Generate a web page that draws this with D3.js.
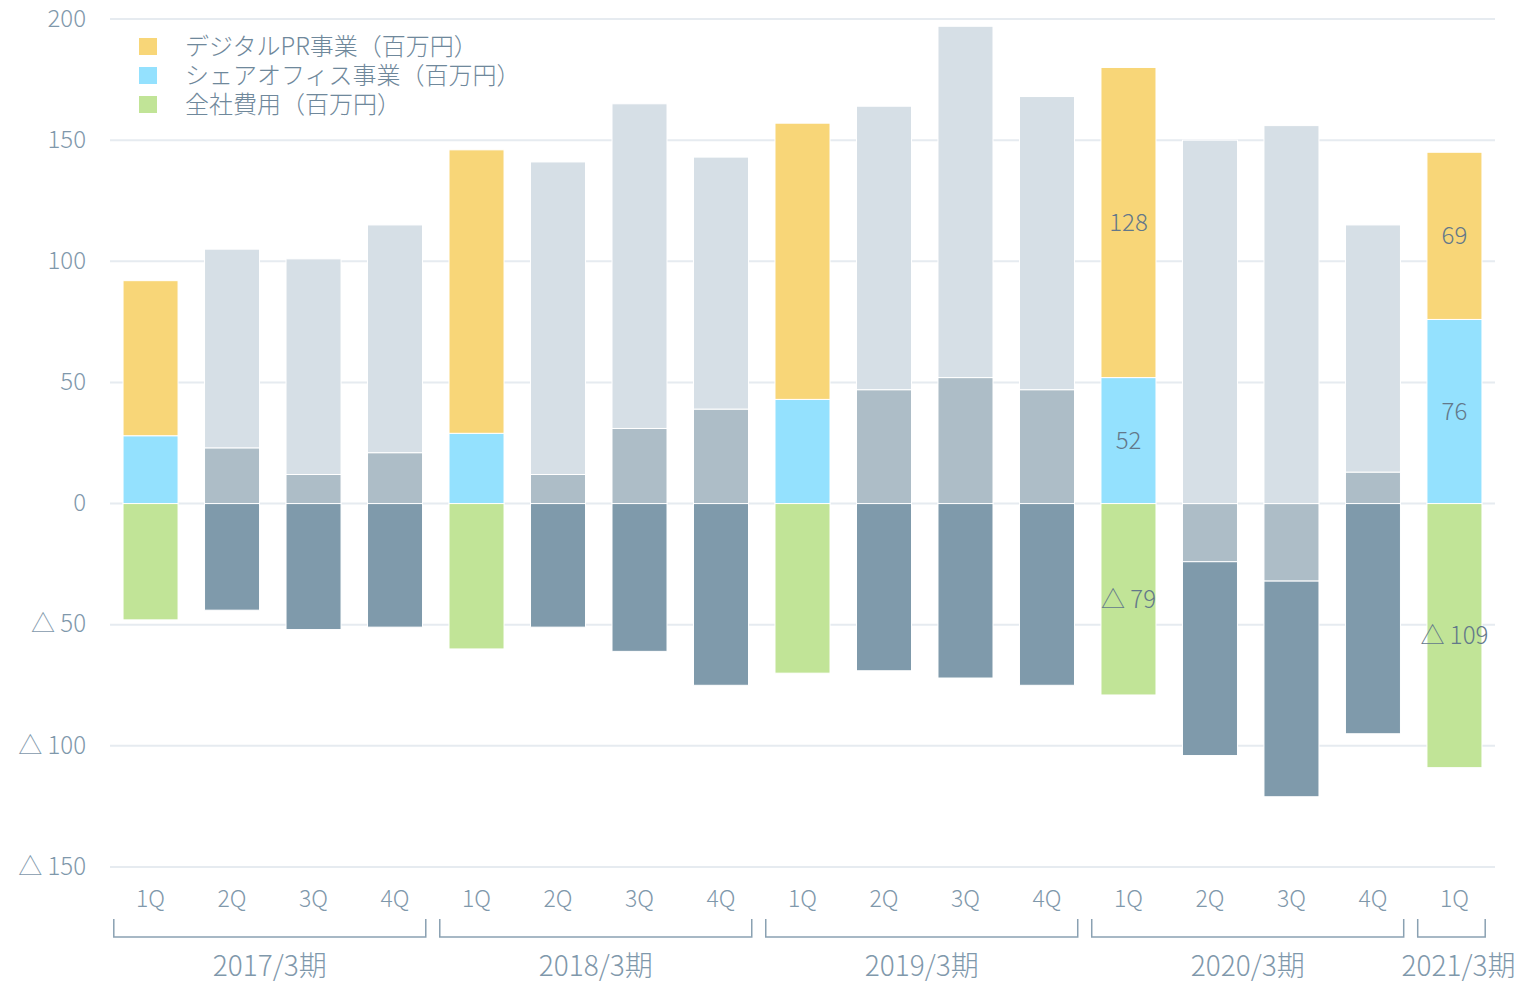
<!DOCTYPE html>
<html>
<head>
<meta charset="utf-8">
<script src="https://cdn.jsdelivr.net/npm/d3@7"></script>
<style>
  body { margin: 0; background: #fff; }
  text { font-family: "Noto Sans CJK JP", "Noto Sans", sans-serif; font-weight: 300; }
</style>
</head>
<body>
<svg id="chart"></svg>
<script>
// quarters and fiscal years
const quarters = ["1Q","2Q","3Q","4Q","1Q","2Q","3Q","4Q","1Q","2Q","3Q","4Q","1Q","2Q","3Q","4Q","1Q"];
const fiscalYears = ["2017/3期","2018/3期","2019/3期","2020/3期","2021/3期"];
const yearStart = [0, 4, 8, 12, 16];
const yearEnd = [3, 7, 11, 15, 16];

// series values (百万円)
const digitalPR = [64, 82, 89, 94, 117, 129, 134, 104, 114, 117, 145, 121, 128, 150, 156, 102, 69];
const shareOffice = [28, 23, 12, 21, 29, 12, 31, 39, 43, 47, 52, 47, 52, -24, -32, 13, 76];
const corporate = [-48, -44, -52, -51, -60, -51, -61, -75, -70, -69, -72, -75, -79, -80, -89, -95, -109];

const highlighted = [0, 4, 8, 12, 16];
const labelled = [12, 16];
const yTicks = [-150, -100, -50, 0, 50, 100, 150, 200];

const legendNames = ["デジタルPR事業（百万円）", "シェアオフィス事業（百万円）", "全社費用（百万円）"];

const W = 1527, H = 983;
const margin = {top: 19, right: 32, bottom: 116, left: 110};

const svg = d3.select("#chart").attr("width", W).attr("height", H);

const keys = ["shareOffice", "digitalPR", "corporate"];
const rows = quarters.map((q, i) => ({
  idx: i, shareOffice: shareOffice[i], digitalPR: digitalPR[i], corporate: corporate[i]
}));
const series = d3.stack().keys(keys).offset(d3.stackOffsetDiverging)(rows);

const x = d3.scaleBand()
    .domain(d3.range(quarters.length))
    .range([margin.left, W - margin.right])
    .paddingInner(0.325)
    .paddingOuter(0.16);

const y = d3.scaleLinear()
    .domain([-150, 200])
    .range([H - margin.bottom, margin.top]);

const colors = {digitalPR: "#f8d678", shareOffice: "#94e1fe", corporate: "#c1e497"};
const greys = {digitalPR: "#d6dfe6", shareOffice: "#adbdc7", corporate: "#7f9aab"};

// gridlines
svg.append("g")
  .selectAll("line")
  .data(yTicks)
  .join("line")
    .attr("x1", margin.left)
    .attr("x2", W - margin.right)
    .attr("y1", d => y(d))
    .attr("y2", d => y(d))
    .attr("stroke", "#e6ebf0")
    .attr("stroke-width", 2);

// y axis labels
const yAxis = d3.axisLeft(y)
    .tickValues(yTicks)
    .tickSize(0)
    .tickPadding(0)
    .tickFormat(d => d < 0 ? "△ " + Math.abs(d) : d);

svg.append("g")
    .attr("transform", `translate(86,0)`)
    .call(yAxis)
    .call(g => g.select(".domain").remove())
    .call(g => g.selectAll("text")
        .attr("fill", "#7f98ab")
        .attr("font-size", 24)
        .attr("dy", "0.3em")
        .style("font-family", "'Noto Sans CJK JP', sans-serif"));

// bars
svg.append("g")
  .selectAll("g")
  .data(series)
  .join("g")
  .selectAll("rect")
  .data(s => s.map(d => ({key: s.key, d})))
  .join("rect")
    .attr("x", e => x(e.d.data.idx))
    .attr("width", x.bandwidth())
    .attr("y", e => y(Math.max(e.d[0], e.d[1])))
    .attr("height", e => Math.abs(y(e.d[0]) - y(e.d[1])))
    .attr("fill", e => highlighted.includes(e.d.data.idx) ? colors[e.key] : greys[e.key])
    .attr("stroke", "#fff")
    .attr("stroke-width", 1);

// data labels
const labelData = [];
series.forEach(s => s.forEach(d => {
  if (labelled.includes(d.data.idx) && d[1] !== d[0]) {
    labelData.push({v: d.data[s.key], mid: (d[0] + d[1]) / 2, idx: d.data.idx});
  }
}));
svg.append("g")
  .selectAll("text")
  .data(labelData)
  .join("text")
    .attr("x", d => x(d.idx) + x.bandwidth() / 2)
    .attr("y", d => y(d.mid))
    .attr("dy", "0.35em")
    .attr("text-anchor", "middle")
    .attr("font-size", 24)
    .attr("fill", "#63788a")
    .text(d => d.v < 0 ? "△ " + Math.abs(d.v) : d.v);

// quarter labels
const xAxisY = 899;
svg.append("g")
  .selectAll("text")
  .data(quarters)
  .join("text")
    .attr("x", (d, i) => x(i) + x.bandwidth() / 2)
    .attr("y", xAxisY)
    .attr("dy", "0.35em")
    .attr("text-anchor", "middle")
    .attr("font-size", 23)
    .attr("fill", "#7f98ab")
    .text(d => d);

// year brackets
const step = x.step();
const bandStart = i => x(i) - step * x.paddingInner() / 2;
const brackets = svg.append("g");
fiscalYears.forEach((fy, k) => {
  const x0 = bandStart(yearStart[k]) + 4;
  const x1 = bandStart(yearEnd[k]) + step - 10;
  brackets.append("path")
      .attr("d", `M${x0},919 V937 H${x1} V919`)
      .attr("fill", "none")
      .attr("stroke", "#8aa1b2")
      .attr("stroke-width", 1.5);
  const cx = k === fiscalYears.length - 1 ? Math.min((x0 + x1) / 2 + 7, W - 68) : (x0 + x1) / 2;
  brackets.append("text")
      .attr("x", cx)
      .attr("y", 966)
      .attr("dy", "0.35em")
      .attr("text-anchor", "middle")
      .attr("font-size", 28)
      .attr("fill", "#7f98ab")
      .text(fy);
});

// legend
const legend = svg.append("g").attr("transform", "translate(139,38)");
const legendColors = [colors.digitalPR, colors.shareOffice, colors.corporate];
legendNames.forEach((name, i) => {
  const g = legend.append("g").attr("transform", `translate(0,${i * 29})`);
  g.append("rect")
      .attr("width", 18)
      .attr("height", 17)
      .attr("fill", legendColors[i]);
  g.append("text")
      .attr("x", 46)
      .attr("y", 9)
      .attr("dy", "0.35em")
      .attr("font-size", 24)
      .attr("fill", "#6f889b")
      .text(name);
});
</script>
</body>
</html>
